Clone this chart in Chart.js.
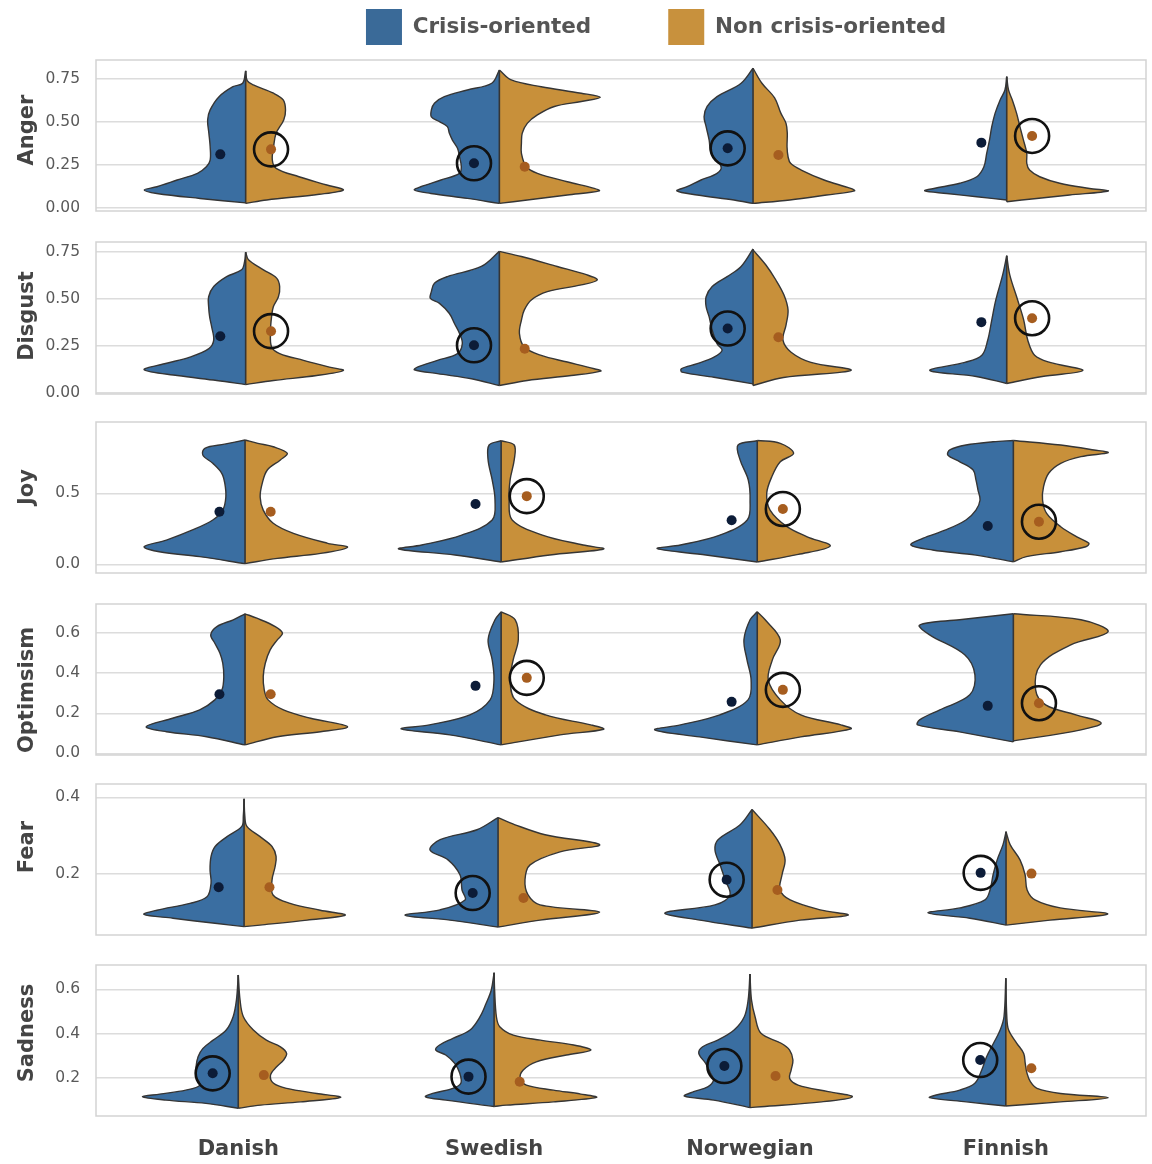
<!DOCTYPE html>
<html>
<head>
<meta charset="utf-8">
<script src="https://cdn.jsdelivr.net/npm/chart.js@4/dist/chart.umd.min.js"></script>
<style>
  html, body { margin: 0; padding: 0; background: #ffffff; }
  #wrap { position: relative; width: 1152px; height: 1164px; overflow: hidden; background: #ffffff; }
  #wrap canvas { position: absolute; }
</style>
</head>
<body>
<div id="wrap"></div>
<script>
// ---------------------------------------------------------------------------
// Data
// ---------------------------------------------------------------------------
const languages = ['Danish', 'Swedish', 'Norwegian', 'Finnish'];
const seriesNames = ['Crisis-oriented', 'Non crisis-oriented'];
const emotions = ['Anger', 'Disgust', 'Joy', 'Optimsism', 'Fear', 'Sadness'];

// Density profiles, one per language: [score, half-width] pairs from the lowest
// score to the highest. Half-width is in category units (0.4 = widest half).
const angerCrisis = [
  [[0.03,0],[0.056,0.18],[0.085,0.35],[0.105,0.40],[0.124,0.35],[0.163,0.27],[0.202,0.19],[0.24,0.155],[0.279,0.14],[0.356,0.14],[0.434,0.145],[0.512,0.15],[0.57,0.14],[0.647,0.105],[0.705,0.05],[0.725,0.012],[0.797,0]],
  [[0.027,0],[0.056,0.126],[0.085,0.27],[0.105,0.335],[0.124,0.31],[0.163,0.23],[0.202,0.157],[0.24,0.15],[0.298,0.157],[0.347,0.165],[0.395,0.185],[0.434,0.197],[0.473,0.205],[0.502,0.236],[0.53,0.268],[0.57,0.268],[0.609,0.256],[0.647,0.217],[0.686,0.126],[0.725,0.03],[0.802,0]],
  [[0.027,0],[0.047,0.075],[0.076,0.22],[0.1,0.3],[0.124,0.26],[0.163,0.205],[0.202,0.142],[0.24,0.126],[0.318,0.165],[0.395,0.173],[0.473,0.185],[0.53,0.193],[0.59,0.181],[0.647,0.142],[0.725,0.047],[0.812,0]],
  [[0.047,0],[0.066,0.118],[0.085,0.236],[0.1,0.323],[0.114,0.287],[0.144,0.185],[0.182,0.118],[0.24,0.09],[0.318,0.079],[0.395,0.068],[0.473,0.059],[0.55,0.046],[0.628,0.026],[0.686,0.007],[0.763,0]]
];
const angerNonCrisis = [
  [[0.027,0],[0.047,0.083],[0.08,0.29],[0.105,0.385],[0.134,0.32],[0.182,0.21],[0.231,0.12],[0.279,0.105],[0.356,0.11],[0.434,0.12],[0.512,0.15],[0.57,0.157],[0.628,0.148],[0.667,0.11],[0.715,0.03],[0.74,0.006],[0.797,0]],
  [[0.027,0],[0.047,0.11],[0.076,0.268],[0.1,0.394],[0.114,0.374],[0.153,0.268],[0.202,0.15],[0.24,0.106],[0.318,0.087],[0.376,0.087],[0.434,0.09],[0.492,0.11],[0.541,0.15],[0.59,0.217],[0.619,0.323],[0.643,0.398],[0.667,0.323],[0.705,0.165],[0.744,0.047],[0.802,0]],
  [[0.027,0],[0.047,0.145],[0.076,0.29],[0.1,0.4],[0.114,0.385],[0.163,0.28],[0.221,0.19],[0.26,0.148],[0.298,0.138],[0.356,0.134],[0.434,0.135],[0.492,0.13],[0.55,0.11],[0.64,0.085],[0.725,0.035],[0.812,0]],
  [[0.037,0],[0.056,0.118],[0.076,0.248],[0.099,0.40],[0.114,0.327],[0.144,0.209],[0.182,0.13],[0.221,0.09],[0.26,0.079],[0.318,0.079],[0.395,0.066],[0.473,0.052],[0.55,0.039],[0.628,0.022],[0.686,0.007],[0.763,0]]
];
const angerMeanCrisis = [0.312, 0.26, 0.347, 0.38];
const angerMeanNonCrisis = [0.341, 0.24, 0.308, 0.419];
const angerCircled = ['N', 'C', 'C', 'N'];

const disgustCrisis = [
  [[0.044,0],[0.066,0.114],[0.092,0.27],[0.123,0.40],[0.155,0.32],[0.19,0.22],[0.235,0.145],[0.28,0.126],[0.351,0.134],[0.404,0.142],[0.458,0.146],[0.511,0.146],[0.565,0.126],[0.618,0.075],[0.654,0.016],[0.70,0.004],[0.748,0]],
  [[0.039,0],[0.075,0.11],[0.102,0.244],[0.123,0.335],[0.137,0.323],[0.173,0.244],[0.209,0.165],[0.262,0.146],[0.316,0.157],[0.369,0.177],[0.422,0.197],[0.476,0.236],[0.502,0.272],[0.538,0.268],[0.583,0.256],[0.618,0.205],[0.672,0.071],[0.752,0]],
  [[0.048,0],[0.083,0.154],[0.11,0.28],[0.128,0.283],[0.155,0.22],[0.19,0.154],[0.226,0.122],[0.262,0.142],[0.333,0.161],[0.404,0.173],[0.458,0.185],[0.511,0.185],[0.565,0.161],[0.618,0.102],[0.672,0.047],[0.765,0]],
  [[0.05,0],[0.087,0.12],[0.119,0.303],[0.162,0.165],[0.2,0.098],[0.28,0.075],[0.387,0.059],[0.494,0.043],[0.627,0.016],[0.729,0]]
];
const disgustNonCrisis = [
  [[0.044,0],[0.066,0.11],[0.092,0.28],[0.119,0.385],[0.137,0.33],[0.173,0.228],[0.209,0.134],[0.244,0.102],[0.333,0.098],[0.404,0.102],[0.458,0.109],[0.511,0.129],[0.565,0.134],[0.61,0.122],[0.654,0.07],[0.708,0.011],[0.748,0]],
  [[0.039,0],[0.066,0.11],[0.092,0.283],[0.116,0.40],[0.128,0.374],[0.164,0.268],[0.199,0.165],[0.244,0.098],[0.316,0.079],[0.387,0.087],[0.44,0.098],[0.494,0.126],[0.538,0.189],[0.574,0.323],[0.60,0.386],[0.627,0.346],[0.672,0.228],[0.725,0.087],[0.752,0]],
  [[0.039,0],[0.082,0.12],[0.12,0.386],[0.162,0.228],[0.216,0.15],[0.28,0.118],[0.36,0.13],[0.44,0.138],[0.52,0.122],[0.60,0.09],[0.681,0.05],[0.76,0]],
  [[0.05,0],[0.087,0.14],[0.119,0.30],[0.162,0.17],[0.2,0.11],[0.28,0.083],[0.387,0.067],[0.494,0.043],[0.627,0.012],[0.729,0]]
];
const disgustMeanCrisis = [0.301, 0.253, 0.342, 0.376];
const disgustMeanNonCrisis = [0.328, 0.235, 0.296, 0.397];
const disgustCircled = ['N', 'C', 'C', 'N'];

const joyCrisis = [
  [[0.005,0],[0.054,0.177],[0.089,0.335],[0.124,0.394],[0.171,0.307],[0.242,0.205],[0.312,0.126],[0.382,0.087],[0.474,0.075],[0.57,0.079],[0.641,0.091],[0.711,0.126],[0.77,0.165],[0.817,0.157],[0.846,0.08],[0.875,0]],
  [[0.016,0],[0.066,0.18],[0.108,0.40],[0.136,0.31],[0.206,0.154],[0.312,0.035],[0.453,0.024],[0.594,0.035],[0.735,0.051],[0.84,0.047],[0.87,0]],
  [[0.016,0],[0.066,0.20],[0.11,0.39],[0.136,0.30],[0.206,0.146],[0.312,0.039],[0.453,0.028],[0.594,0.035],[0.735,0.067],[0.84,0.075],[0.87,0]],
  [[0.018,0],[0.065,0.146],[0.101,0.315],[0.136,0.40],[0.183,0.354],[0.242,0.264],[0.312,0.185],[0.382,0.146],[0.453,0.13],[0.523,0.138],[0.594,0.146],[0.664,0.157],[0.722,0.209],[0.77,0.256],[0.805,0.248],[0.84,0.185],[0.863,0.079],[0.872,0]]
];
const joyNonCrisis = [
  [[0.005,0],[0.042,0.126],[0.077,0.295],[0.12,0.40],[0.148,0.323],[0.218,0.189],[0.289,0.11],[0.382,0.071],[0.474,0.059],[0.57,0.067],[0.664,0.087],[0.735,0.138],[0.782,0.165],[0.828,0.11],[0.852,0.05],[0.875,0]],
  [[0.016,0],[0.066,0.19],[0.108,0.40],[0.136,0.32],[0.206,0.161],[0.312,0.043],[0.453,0.031],[0.594,0.035],[0.735,0.051],[0.84,0.051],[0.87,0]],
  [[0.016,0],[0.07,0.16],[0.129,0.285],[0.194,0.195],[0.265,0.116],[0.382,0.05],[0.5,0.037],[0.617,0.057],[0.722,0.09],[0.782,0.142],[0.852,0.09],[0.872,0]],
  [[0.018,0],[0.054,0.051],[0.089,0.185],[0.124,0.283],[0.148,0.295],[0.194,0.248],[0.265,0.185],[0.359,0.13],[0.453,0.114],[0.547,0.118],[0.641,0.138],[0.711,0.185],[0.758,0.264],[0.786,0.37],[0.805,0.315],[0.84,0.185],[0.872,0]]
];
const joyMeanCrisis = [0.37, 0.425, 0.31, 0.27];
const joyMeanNonCrisis = [0.37, 0.48, 0.39, 0.30];
const joyCircled = [null, 'N', 'N', 'N'];

const optimismCrisis = [
  [[0.042,0],[0.083,0.15],[0.108,0.307],[0.133,0.386],[0.175,0.283],[0.217,0.177],[0.267,0.118],[0.317,0.09],[0.383,0.083],[0.45,0.087],[0.5,0.098],[0.55,0.118],[0.592,0.134],[0.633,0.11],[0.667,0.046],[0.697,0]],
  [[0.042,0],[0.092,0.20],[0.122,0.39],[0.142,0.28],[0.192,0.122],[0.267,0.043],[0.367,0.028],[0.467,0.035],[0.567,0.051],[0.667,0.024],[0.707,0]],
  [[0.042,0],[0.082,0.225],[0.117,0.40],[0.142,0.30],[0.192,0.146],[0.267,0.036],[0.367,0.024],[0.467,0.04],[0.567,0.052],[0.667,0.028],[0.707,0]],
  [[0.057,0],[0.107,0.21],[0.142,0.374],[0.167,0.366],[0.217,0.287],[0.292,0.17],[0.392,0.15],[0.492,0.19],[0.592,0.327],[0.641,0.366],[0.667,0.21],[0.697,0]]
];
const optimismNonCrisis = [
  [[0.042,0],[0.083,0.126],[0.108,0.295],[0.133,0.40],[0.175,0.256],[0.217,0.15],[0.267,0.09],[0.317,0.075],[0.383,0.071],[0.45,0.079],[0.517,0.098],[0.567,0.126],[0.60,0.146],[0.633,0.118],[0.675,0.046],[0.697,0]],
  [[0.042,0],[0.092,0.23],[0.12,0.40],[0.142,0.35],[0.192,0.173],[0.267,0.055],[0.367,0.035],[0.467,0.047],[0.567,0.067],[0.667,0.055],[0.707,0]],
  [[0.042,0],[0.082,0.17],[0.122,0.366],[0.142,0.327],[0.192,0.17],[0.267,0.09],[0.367,0.043],[0.467,0.059],[0.567,0.09],[0.667,0.031],[0.707,0]],
  [[0.062,0],[0.117,0.264],[0.152,0.343],[0.192,0.244],[0.242,0.126],[0.317,0.087],[0.442,0.106],[0.542,0.224],[0.607,0.37],[0.667,0.264],[0.697,0]]
];
const optimismMeanCrisis = [0.295, 0.337, 0.257, 0.237];
const optimismMeanNonCrisis = [0.295, 0.377, 0.317, 0.25];
const optimismCircled = [null, 'N', 'N', 'N'];

const fearCrisis = [
  [[0.061,0],[0.069,0.106],[0.083,0.28],[0.093,0.394],[0.104,0.343],[0.122,0.213],[0.139,0.146],[0.175,0.13],[0.21,0.134],[0.245,0.13],[0.271,0.114],[0.297,0.067],[0.324,0.009],[0.35,0.003],[0.396,0]],
  [[0.06,0],[0.078,0.189],[0.091,0.366],[0.105,0.228],[0.131,0.13],[0.157,0.142],[0.197,0.15],[0.236,0.197],[0.262,0.268],[0.289,0.228],[0.315,0.083],[0.347,0]],
  [[0.057,0],[0.078,0.205],[0.097,0.343],[0.118,0.146],[0.144,0.087],[0.184,0.106],[0.223,0.126],[0.262,0.146],[0.289,0.134],[0.328,0.047],[0.368,0]],
  [[0.065,0],[0.083,0.142],[0.097,0.307],[0.11,0.181],[0.131,0.083],[0.157,0.063],[0.197,0.051],[0.236,0.035],[0.276,0.012],[0.31,0]]
];
const fearNonCrisis = [
  [[0.061,0],[0.065,0.063],[0.078,0.248],[0.091,0.398],[0.104,0.30],[0.122,0.181],[0.144,0.114],[0.183,0.11],[0.218,0.122],[0.245,0.126],[0.271,0.11],[0.297,0.063],[0.324,0.011],[0.35,0.003],[0.396,0]],
  [[0.06,0],[0.078,0.165],[0.099,0.40],[0.118,0.165],[0.144,0.118],[0.184,0.106],[0.223,0.126],[0.257,0.244],[0.276,0.40],[0.302,0.185],[0.328,0.067],[0.347,0]],
  [[0.057,0],[0.078,0.189],[0.091,0.378],[0.105,0.268],[0.131,0.15],[0.157,0.11],[0.197,0.118],[0.236,0.13],[0.276,0.11],[0.315,0.071],[0.368,0]],
  [[0.065,0],[0.078,0.173],[0.094,0.40],[0.11,0.213],[0.131,0.114],[0.157,0.083],[0.197,0.075],[0.236,0.055],[0.276,0.016],[0.31,0]]
];
const fearMeanCrisis = [0.164, 0.149, 0.184, 0.202];
const fearMeanNonCrisis = [0.164, 0.136, 0.157, 0.20];
const fearCircled = [null, 'C', 'C', 'C'];

const sadnessCrisis = [
  [[0.062,0],[0.084,0.126],[0.099,0.283],[0.114,0.374],[0.126,0.307],[0.144,0.205],[0.167,0.15],[0.205,0.165],[0.25,0.165],[0.295,0.157],[0.333,0.138],[0.37,0.098],[0.416,0.047],[0.476,0.02],[0.552,0.007],[0.665,0]],
  [[0.07,0],[0.099,0.189],[0.114,0.268],[0.129,0.24],[0.152,0.161],[0.175,0.13],[0.22,0.134],[0.265,0.154],[0.303,0.189],[0.325,0.228],[0.348,0.213],[0.378,0.161],[0.416,0.094],[0.476,0.055],[0.537,0.031],[0.597,0.011],[0.675,0]],
  [[0.065,0],[0.099,0.142],[0.117,0.256],[0.137,0.22],[0.159,0.165],[0.19,0.142],[0.22,0.154],[0.265,0.173],[0.31,0.20],[0.34,0.185],[0.37,0.126],[0.416,0.062],[0.476,0.022],[0.552,0.007],[0.669,0]],
  [[0.072,0],[0.091,0.154],[0.11,0.298],[0.122,0.272],[0.144,0.18],[0.175,0.121],[0.235,0.094],[0.295,0.075],[0.356,0.048],[0.416,0.022],[0.476,0.007],[0.65,0]]
];
const sadnessNonCrisis = [
  [[0.062,0],[0.076,0.087],[0.091,0.244],[0.111,0.40],[0.129,0.307],[0.152,0.189],[0.175,0.138],[0.212,0.126],[0.25,0.15],[0.28,0.177],[0.31,0.189],[0.34,0.165],[0.37,0.11],[0.416,0.059],[0.476,0.02],[0.552,0.007],[0.665,0]],
  [[0.07,0],[0.076,0.047],[0.091,0.232],[0.111,0.40],[0.126,0.339],[0.144,0.232],[0.167,0.126],[0.197,0.102],[0.235,0.114],[0.272,0.165],[0.303,0.283],[0.325,0.378],[0.348,0.311],[0.37,0.181],[0.393,0.075],[0.431,0.022],[0.476,0.009],[0.597,0.002],[0.675,0]],
  [[0.065,0],[0.069,0.043],[0.091,0.28],[0.114,0.40],[0.137,0.306],[0.167,0.188],[0.197,0.155],[0.235,0.161],[0.28,0.168],[0.325,0.155],[0.356,0.122],[0.401,0.043],[0.476,0.02],[0.552,0.006],[0.669,0]],
  [[0.072,0],[0.091,0.213],[0.11,0.40],[0.129,0.214],[0.152,0.122],[0.182,0.096],[0.22,0.083],[0.265,0.076],[0.31,0.07],[0.356,0.043],[0.416,0.011],[0.476,0.004],[0.65,0]]
];
const sadnessMeanCrisis = [0.22, 0.205, 0.253, 0.28];
const sadnessMeanNonCrisis = [0.212, 0.182, 0.208, 0.243];
const sadnessCircled = ['C', 'C', 'C', 'C'];

// Tick values of each panel's score axis
const angerTicks = [0, 0.25, 0.5, 0.75];
const disgustTicks = [0, 0.25, 0.5, 0.75];
const joyTicks = [0, 0.5];
const optimismTicks = [0, 0.2, 0.4, 0.6];
const fearTicks = [0.2, 0.4];
const sadnessTicks = [0.2, 0.4, 0.6];

// ---------------------------------------------------------------------------
// Styling and layout
// ---------------------------------------------------------------------------
const BLUE = '#3a6ea1';
const ORANGE = '#c8903a';
const LEGEND_BLUE = '#3a6a98';
const LEGEND_ORANGE = '#c8913d';
const OUTLINE = '#353535';
const DOT_BLUE = '#0c1c38';
const DOT_ORANGE = '#a65d1f';
const RING = '#111111';
const GRID = '#dcdcdc';
const FRAME = '#d3d3d3';
const TICK_COLOR = '#595959';
const TITLE_COLOR = '#444444';
const DOT_SHIFT = 0.1;

const PAGE_W = 1152;
const AREA_LEFT = 96;
const AREA_RIGHT = 1146;
const PAD = 28;
const AXIS_H = 48;

Chart.defaults.font.family = "'DejaVu Sans', sans-serif";

const panels = [
  { title: emotions[0], crisis: angerCrisis, non: angerNonCrisis, meanC: angerMeanCrisis, meanN: angerMeanNonCrisis, circled: angerCircled, ticks: angerTicks, dec: 2,
    top: 60, bottom: 211, yMin: -0.017, yMax: 0.86, xMin: -0.590, xMax: 3.549, titleY: 130 },
  { title: emotions[1], crisis: disgustCrisis, non: disgustNonCrisis, meanC: disgustMeanCrisis, meanN: disgustMeanNonCrisis, circled: disgustCircled, ticks: disgustTicks, dec: 2,
    top: 242, bottom: 393.5, yMin: -0.006, yMax: 0.802, xMin: -0.590, xMax: 3.549, titleY: 316 },
  { title: emotions[2], crisis: joyCrisis, non: joyNonCrisis, meanC: joyMeanCrisis, meanN: joyMeanNonCrisis, circled: joyCircled, ticks: joyTicks, dec: 1,
    top: 422, bottom: 573, yMin: -0.061, yMax: 1.002, xMin: -0.582, xMax: 3.518, titleY: 487 },
  { title: emotions[3], crisis: optimismCrisis, non: optimismNonCrisis, meanC: optimismMeanCrisis, meanN: optimismMeanNonCrisis, circled: optimismCircled, ticks: optimismTicks, dec: 1,
    top: 604, bottom: 755, yMin: -0.0085, yMax: 0.746, xMin: -0.582, xMax: 3.518, titleY: 690 },
  { title: emotions[4], crisis: fearCrisis, non: fearNonCrisis, meanC: fearMeanCrisis, meanN: fearMeanNonCrisis, circled: fearCircled, ticks: fearTicks, dec: 1,
    top: 784, bottom: 935, yMin: 0.039, yMax: 0.435, xMin: -0.583, xMax: 3.551, titleY: 847 },
  { title: emotions[5], crisis: sadnessCrisis, non: sadnessNonCrisis, meanC: sadnessMeanCrisis, meanN: sadnessMeanNonCrisis, circled: sadnessCircled, ticks: sadnessTicks, dec: 1,
    top: 965, bottom: 1116, yMin: 0.027, yMax: 0.71, xMin: -0.556, xMax: 3.548, titleY: 1033 }
];

// Light frame round each panel's plotting area
const panelFrame = {
  id: 'panelFrame',
  beforeDatasetsDraw(chart) {
    const { ctx, chartArea: a } = chart;
    ctx.save();
    ctx.strokeStyle = FRAME;
    ctx.lineWidth = 1.5;
    ctx.strokeRect(a.left, a.top, a.right - a.left, a.bottom - a.top);
    ctx.restore();
  }
};

// Rotated emotion name at the left of each panel
const panelTitle = {
  id: 'panelTitle',
  afterDraw(chart, args, opts) {
    const { ctx } = chart;
    ctx.save();
    ctx.translate(opts.x, opts.y);
    ctx.rotate(-Math.PI / 2);
    ctx.font = "bold 21px 'DejaVu Sans'";
    ctx.fillStyle = TITLE_COLOR;
    ctx.textAlign = 'center';
    ctx.textBaseline = 'alphabetic';
    ctx.fillText(opts.text, 0, 0);
    ctx.restore();
  }
};

const wrap = document.getElementById('wrap');

function makeCanvas(left, top, width, height) {
  const c = document.createElement('canvas');
  c.width = width;
  c.height = height;
  c.style.left = left + 'px';
  c.style.top = top + 'px';
  c.style.width = width + 'px';
  c.style.height = height + 'px';
  wrap.appendChild(c);
  return c;
}

// One half of a split violin: outer edge from bottom to top, closed along the centre
function halfOutline(profile, center, side) {
  return profile.map(([score, w]) => ({ x: center + side * w, y: score }));
}

function buildDatasets(p) {
  const ds = [];
  languages.forEach((lang, i) => {
    const c = p.crisis[i];
    const n = p.non[i];
    ds.push({
      label: lang + ' ' + seriesNames[0],
      data: halfOutline(c, i, -1),
      backgroundColor: BLUE, borderColor: OUTLINE, borderWidth: 1.4,
      fill: 'shape', tension: 0.35, pointRadius: 0, borderJoinStyle: 'round', order: 5
    });
    ds.push({
      label: lang + ' ' + seriesNames[1],
      data: halfOutline(n, i, 1),
      backgroundColor: ORANGE, borderColor: OUTLINE, borderWidth: 1.4,
      fill: 'shape', tension: 0.35, pointRadius: 0, borderJoinStyle: 'round', order: 5
    });
    const lo = Math.min(c[0][0], n[0][0]);
    const hi = Math.max(c[c.length - 1][0], n[n.length - 1][0]);
    ds.push({
      label: lang + ' split',
      data: [{ x: i, y: lo }, { x: i, y: hi }],
      borderColor: OUTLINE, borderWidth: 1.6, fill: false, tension: 0, pointRadius: 0, order: 4
    });
  });
  ds.push({
    label: seriesNames[0] + ' mean',
    data: p.meanC.map((v, i) => ({ x: i - DOT_SHIFT, y: v })),
    showLine: false, pointRadius: 5, pointBackgroundColor: DOT_BLUE, pointBorderWidth: 0, order: 3
  });
  ds.push({
    label: seriesNames[1] + ' mean',
    data: p.meanN.map((v, i) => ({ x: i + DOT_SHIFT, y: v })),
    showLine: false, pointRadius: 5, pointBackgroundColor: DOT_ORANGE, pointBorderWidth: 0, order: 3
  });
  const rings = [];
  p.circled.forEach((which, i) => {
    if (which === 'C') rings.push({ x: i - DOT_SHIFT, y: p.meanC[i] });
    if (which === 'N') rings.push({ x: i + DOT_SHIFT, y: p.meanN[i] });
  });
  ds.push({
    label: 'highlight',
    data: rings,
    showLine: false, pointRadius: 17, pointBackgroundColor: 'rgba(0,0,0,0)',
    pointBorderColor: RING, pointBorderWidth: 2.6, order: 1
  });
  return ds;
}

panels.forEach((p, idx) => {
  const isLast = idx === panels.length - 1;
  const canvasTop = p.top - PAD;
  const areaH = p.bottom - p.top;
  const canvasH = Math.round(PAD + areaH + (isLast ? AXIS_H : PAD));
  const canvas = makeCanvas(0, canvasTop, PAGE_W, canvasH);

  new Chart(canvas, {
    type: 'line',
    data: { datasets: buildDatasets(p) },
    options: {
      responsive: false,
      animation: false,
      devicePixelRatio: 1,
      events: [],
      layout: { autoPadding: false, padding: { top: PAD, bottom: isLast ? 0 : PAD, left: 0, right: PAGE_W - AREA_RIGHT } },
      scales: {
        x: {
          type: 'linear',
          min: p.xMin, max: p.xMax,
          display: isLast,
          grid: { display: false, drawTicks: false },
          border: { display: false },
          afterBuildTicks: s => { s.ticks = languages.map((_, i) => ({ value: i })); },
          afterFit: s => { if (isLast) s.height = AXIS_H; },
          ticks: {
            callback: v => languages[v],
            color: TITLE_COLOR,
            font: { size: 21, weight: 'bold' },
            padding: 21,
            maxRotation: 0,
            autoSkip: false
          }
        },
        y: {
          type: 'linear',
          min: p.yMin, max: p.yMax,
          afterBuildTicks: s => { s.ticks = p.ticks.map(v => ({ value: v })); },
          afterFit: s => { s.width = AREA_LEFT; },
          grid: { color: GRID, lineWidth: 1.5, drawTicks: false },
          border: { display: false },
          ticks: {
            callback: v => Number(v).toFixed(p.dec),
            color: TICK_COLOR,
            font: { size: 15.5 },
            padding: 16
          }
        }
      },
      plugins: {
        legend: { display: false },
        tooltip: { enabled: false },
        panelTitle: { text: p.title, x: 33, y: p.titleY - canvasTop }
      }
    },
    plugins: [panelFrame, panelTitle]
  });
});

// Legend across the top
const legendCanvas = makeCanvas(256, -68, 800, 260);
new Chart(legendCanvas, {
  type: 'bar',
  data: {
    labels: [],
    datasets: [
      { label: seriesNames[0], data: [], backgroundColor: LEGEND_BLUE, borderWidth: 0 },
      { label: seriesNames[1], data: [], backgroundColor: LEGEND_ORANGE, borderWidth: 0 }
    ]
  },
  options: {
    responsive: false,
    animation: false,
    devicePixelRatio: 1,
    events: [],
    layout: { padding: 0 },
    scales: { x: { display: false }, y: { display: false } },
    plugins: {
      tooltip: { enabled: false },
      legend: {
        display: true,
        position: 'top',
        align: 'center',
        labels: {
          boxWidth: 36,
          boxHeight: 36,
          padding: 77,
          color: '#555555',
          font: { size: 21.5, weight: 'bold' }
        }
      }
    }
  }
});
</script>
</body>
</html>
